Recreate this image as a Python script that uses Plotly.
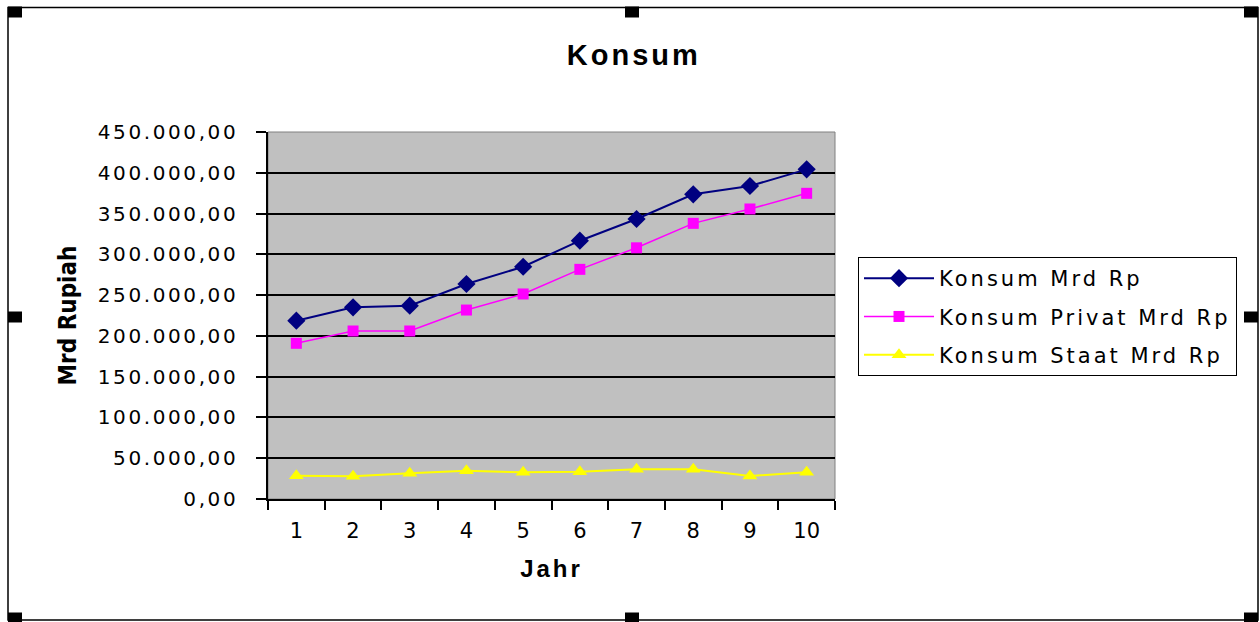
import plotly.graph_objects as go

# Annual consumption data (billion Rupiah)
years = ["1", "2", "3", "4", "5", "6", "7", "8", "9", "10"]
konsum_total = [218600, 235000, 237000, 263600, 284800, 316700, 343300, 373600, 383800, 404200]
konsum_privat = [190900, 206000, 206000, 231700, 251400, 281600, 308000, 338000, 355600, 374800]
konsum_staat = [28600, 27800, 31500, 34700, 32700, 33500, 36400, 36400, 28200, 32700]

series_names = ["Konsum Mrd Rp", "Konsum Privat Mrd Rp", "Konsum Staat Mrd Rp"]

y_tick_values = [0, 50000, 100000, 150000, 200000, 250000, 300000, 350000, 400000, 450000]
y_tick_labels = ["0,00", "50.000,00", "100.000,00", "150.000,00", "200.000,00",
                 "250.000,00", "300.000,00", "350.000,00", "400.000,00", "450.000,00"]

W, H = 1260, 622
ML, MR, MT, MB = 268, 425, 132, 123
PW, PH = W - ML - MR, H - MT - MB

TEXT_FONT = "DejaVu Sans, Verdana, sans-serif"
BOLD_FONT = "Liberation Sans, Arial, sans-serif"


def spaced(text, px):
    return f'<span style="letter-spacing:{px}px">{text}</span>'


def px_x(x):
    return (x - ML) / PW


def px_y(y):
    return (H - MB - y) / PH


fig = go.Figure()

styles = [
    dict(color="#000080", width=2, symbol="diamond", size=14),
    dict(color="#FF00FF", width=1.5, symbol="square", size=11),
    dict(color="#FFFF00", width=2, symbol="triangle-up", size=13),
]
for name, values, st in zip(series_names, [konsum_total, konsum_privat, konsum_staat], styles):
    fig.add_trace(go.Scatter(
        x=years, y=values, name=spaced(name, 3), mode="lines+markers",
        legendgroup=name,
        line=dict(color=st["color"], width=st["width"]),
        marker=dict(color=st["color"], symbol=st["symbol"], size=st["size"],
                    line=dict(width=0)),
    ))

shapes = []
# plot-area frame
shapes.append(dict(type="rect", xref="paper", yref="paper", x0=0, y0=0, x1=1, y1=1,
                   line=dict(color="#808080", width=1), layer="below"))
# chart-area frame
shapes.append(dict(type="rect", xref="paper", yref="paper",
                   x0=px_x(8), x1=px_x(1258), y0=px_y(7.5), y1=px_y(620),
                   line=dict(color="black", width=1.5)))
# selection handles
for cx in (15, 632, 1251):
    for cy in (12, 317, 618):
        if cx == 632 and cy == 317:
            continue
        shapes.append(dict(type="rect", xref="paper", yref="paper",
                           x0=px_x(cx - 7), x1=px_x(cx + 7),
                           y0=px_y(cy - 5.5), y1=px_y(cy + 5.5),
                           fillcolor="black", line=dict(width=0)))

fig.update_layout(
    width=W, height=H,
    margin=dict(l=ML, r=MR, t=MT, b=MB, autoexpand=False),
    paper_bgcolor="white", plot_bgcolor="#C0C0C0",
    title=dict(text=spaced("Konsum", 3), x=0.503, xref="container", xanchor="center",
               y=1 - 55 / H, yref="container", yanchor="middle",
               font=dict(family=BOLD_FONT, size=29, color="black", weight="bold")),
    legend=dict(x=px_x(858), y=px_y(257), xanchor="left", yanchor="top",
                bordercolor="black", borderwidth=1, bgcolor="white",
                font=dict(family=TEXT_FONT, size=21, color="black"),
                traceorder="grouped", tracegroupgap=8, itemwidth=70,
                entrywidth=300, entrywidthmode="pixels"),
    shapes=shapes,
    showlegend=True,
)

fig.update_xaxes(
    type="category", range=[-0.5, 9.5],
    showline=True, linecolor="black", linewidth=1.5, mirror=False,
    ticks="outside", ticklen=9, tickcolor="black", tickwidth=1.5, tickson="boundaries",
    ticklabelstandoff=12,
    tickfont=dict(family=TEXT_FONT, size=21, color="black"),
    showgrid=False, zeroline=False,
    title=dict(text=spaced("Jahr", 3), standoff=18,
               font=dict(family=BOLD_FONT, size=24, color="black", weight="bold")),
)

fig.update_yaxes(
    range=[0, 450000], tickvals=y_tick_values,
    ticktext=[spaced(t, 2.6) for t in y_tick_labels],
    showline=True, linecolor="black", linewidth=1.5,
    ticks="outside", ticklen=10, tickcolor="black", tickwidth=1.5,
    ticklabelstandoff=14,
    tickfont=dict(family=TEXT_FONT, size=20, color="black"),
    showgrid=True, gridcolor="black", gridwidth=2, zeroline=False,
    title=dict(text="Mrd Rupiah", standoff=14,
               font=dict(family="Liberation Sans Narrow, DejaVu Sans Condensed, Liberation Sans, sans-serif",
                         size=24, color="black", weight="bold")),
)

fig.write_html("out.html")
